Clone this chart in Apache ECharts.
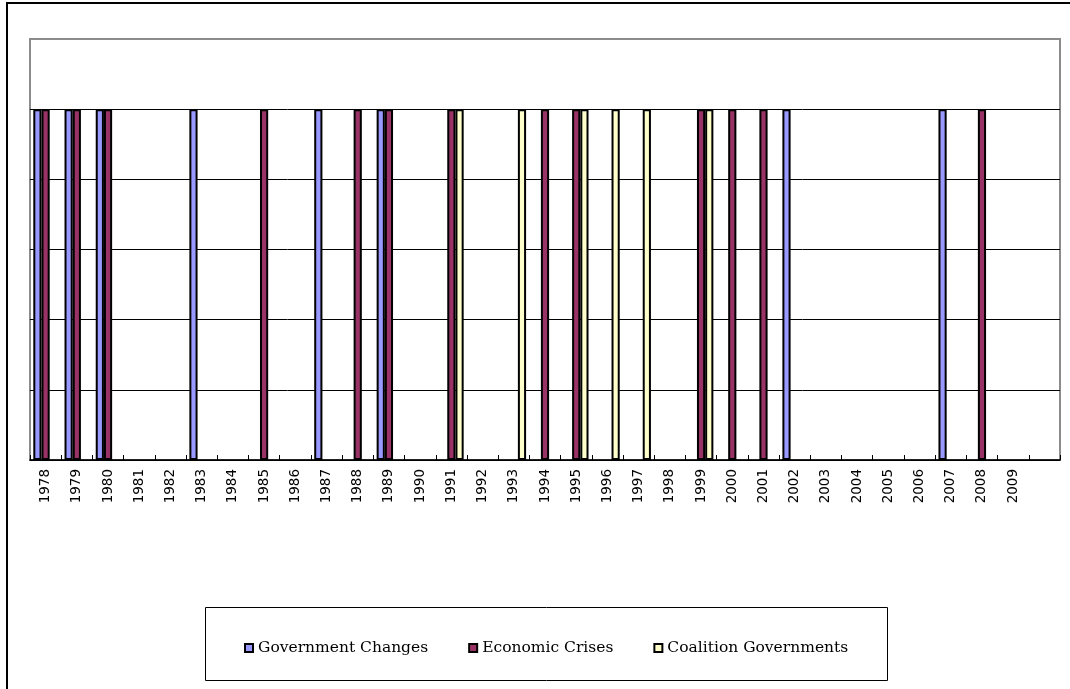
<!DOCTYPE html>
<html lang="en">
<head>
    <meta charset="UTF-8">
    <title>Events by year</title>
    <script src="https://cdn.jsdelivr.net/npm/echarts@6/dist/echarts.min.js"></script>
    <style>
        *{
            margin: 0;
            padding: 0;
        }
        html,body{
            width: 100%;
            height: 100%;
            overflow: hidden;
            background: #fff;
        }
        .container{
            width: 1070px;
            height: 689px;
        }
    </style>
</head>
<body>
<div class="container"></div>
<script>
    // years on the category axis (last slot is empty in the original)
    const years = ['1978','1979','1980','1981','1982','1983','1984','1985','1986','1987','1988',
        '1989','1990','1991','1992','1993','1994','1995','1996','1997','1998','1999','2000',
        '2001','2002','2003','2004','2005','2006','2007','2008','2009',''];

    const govChanges = [1,1,1,null,null,1,null,null,null,1,null,1,null,null,null,null,null,
        null,null,null,null,null,null,null,1,null,null,null,null,1,null,null,null];
    const econCrises = [1,1,1,null,null,null,null,1,null,null,1,1,null,1,null,null,1,
        1,null,null,null,1,1,1,null,null,null,null,null,null,1,null,null];
    const coalitionGovs = [null,null,null,null,null,null,null,null,null,null,null,null,null,1,null,1,null,
        1,1,1,null,1,null,null,null,null,null,null,null,null,null,null,null];

    const seriesNames = ['Government Changes', 'Economic Crises', 'Coalition Governments'];
    const seriesColors = ['#9999ff', '#993366', '#ffffcc'];

    window.onload = function () {
        let chart = echarts.init(document.querySelector('.container'))

        let values = [govChanges, econCrises, coalitionGovs]
        let series = values.map((data, i) => ({
            name: seriesNames[i],
            type: 'bar',
            data,
            barWidth: 8.2,
            barGap: '0%',
            itemStyle: {
                color: seriesColors[i],
                borderColor: '#000',
                borderWidth: 2
            },
            emphasis: {disabled: true}
        }))

        let options = {
            animation: false,
            backgroundColor: '#fff',
            grid: {
                left: 30,
                top: 39,
                right: 10,
                bottom: 229,
                show: true,
                borderColor: '#8c8c8c',
                borderWidth: 2,
                backgroundColor: 'transparent'
            },
            xAxis: {
                type: 'category',
                data: years,
                axisLine: {lineStyle: {color: '#000', width: 1.5}},
                axisTick: {
                    show: true,
                    inside: true,
                    length: 5,
                    interval: 0,
                    lineStyle: {color: '#000'}
                },
                axisLabel: {
                    interval: 0,
                    rotate: 90,
                    margin: 9,
                    color: '#000',
                    fontFamily: 'DejaVu Sans',
                    fontSize: 13.5
                },
                splitLine: {show: false}
            },
            yAxis: {
                type: 'value',
                min: 0,
                max: 1.2,
                interval: 0.2,
                axisLine: {show: false},
                axisTick: {show: false},
                axisLabel: {show: false},
                splitLine: {
                    show: true,
                    showMaxLine: false,
                    lineStyle: {color: '#000', width: 1}
                }
            },
            legend: {
                data: seriesNames,
                left: 239,
                top: 635,
                icon: 'rect',
                itemWidth: 8,
                itemHeight: 8,
                itemGap: 40,
                textStyle: {
                    color: '#000',
                    fontFamily: 'DejaVu Serif',
                    fontSize: 15.5
                },
                selectedMode: false
            },
            graphic: [
                {
                    type: 'rect',
                    shape: {x: 7, y: 3, width: 1100, height: 720},
                    style: {fill: 'none', stroke: '#000', lineWidth: 2},
                    silent: true
                },
                {
                    type: 'rect',
                    shape: {x: 205.5, y: 607.5, width: 682, height: 73},
                    style: {fill: 'none', stroke: '#000', lineWidth: 1},
                    silent: true
                }
            ],
            series
        }

        chart.setOption(options)
    }
</script>
</body>
</html>
